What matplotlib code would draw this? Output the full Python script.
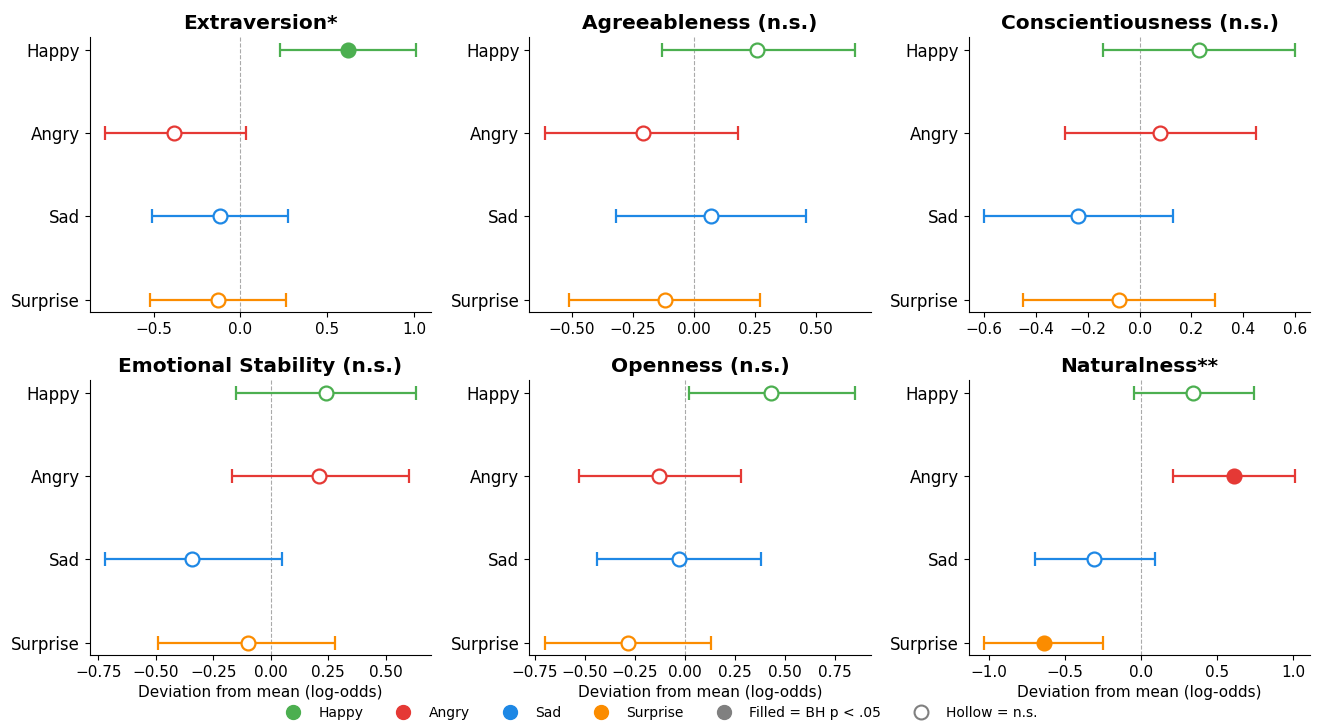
import matplotlib
matplotlib.use("Agg")
import matplotlib.pyplot as plt
from matplotlib.lines import Line2D
from matplotlib.ticker import MultipleLocator
import numpy as np

emotions = ["Happy", "Angry", "Sad", "Surprise"]
colors = ["#4CAF50", "#E53935", "#1E88E5", "#FB8C00"]

traits = ["Extraversion*", "Agreeableness (n.s.)", "Conscientiousness (n.s.)",
          "Emotional Stability (n.s.)", "Openness (n.s.)", "Naturalness**"]
tick_steps = [0.5, 0.25, 0.2, 0.25, 0.25, 0.5]

# point estimates per trait, order: Happy, Angry, Sad, Surprise
est_extraversion = [0.62, -0.38, -0.12, -0.13]
est_agreeableness = [0.26, -0.21, 0.07, -0.12]
est_conscientiousness = [0.23, 0.08, -0.24, -0.08]
est_stability = [0.24, 0.21, -0.34, -0.10]
est_openness = [0.43, -0.13, -0.03, -0.285]
est_naturalness = [0.34, 0.61, -0.31, -0.64]

lo_extraversion = [0.23, -0.78, -0.51, -0.52]
hi_extraversion = [1.01, 0.03, 0.275, 0.26]
lo_agreeableness = [-0.13, -0.61, -0.32, -0.51]
hi_agreeableness = [0.66, 0.18, 0.46, 0.27]
lo_conscientiousness = [-0.14, -0.29, -0.60, -0.45]
hi_conscientiousness = [0.60, 0.45, 0.13, 0.29]
lo_stability = [-0.15, -0.17, -0.72, -0.49]
hi_stability = [0.63, 0.60, 0.05, 0.28]
lo_openness = [0.02, -0.53, -0.44, -0.70]
hi_openness = [0.85, 0.28, 0.38, 0.13]
lo_naturalness = [-0.05, 0.21, -0.70, -1.03]
hi_naturalness = [0.74, 1.01, 0.09, -0.25]

sig_extraversion = [True, False, False, False]
sig_agreeableness = [False, False, False, False]
sig_conscientiousness = [False, False, False, False]
sig_stability = [False, False, False, False]
sig_openness = [False, False, False, False]
sig_naturalness = [False, True, False, True]

ests = [est_extraversion, est_agreeableness, est_conscientiousness,
        est_stability, est_openness, est_naturalness]
los = [lo_extraversion, lo_agreeableness, lo_conscientiousness,
       lo_stability, lo_openness, lo_naturalness]
his = [hi_extraversion, hi_agreeableness, hi_conscientiousness,
       hi_stability, hi_openness, hi_naturalness]
sigs = [sig_extraversion, sig_agreeableness, sig_conscientiousness,
        sig_stability, sig_openness, sig_naturalness]

fig, axes = plt.subplots(2, 3, figsize=(13.17, 7.27), dpi=100)
fig.subplots_adjust(left=0.068, right=0.995, top=0.949, bottom=0.099,
                    wspace=0.287, hspace=0.247)

ypos = np.arange(len(emotions))[::-1]
for i, ax in enumerate(axes.flat):
    ax.axvline(0, color="#aaaaaa", lw=0.8, ls="--", zorder=0)
    for j, emo in enumerate(emotions):
        e = ests[i][j]
        xerr = [[e - los[i][j]], [his[i][j] - e]]
        ax.errorbar([e], [ypos[j]], xerr=xerr, fmt="none", ecolor=colors[j],
                    elinewidth=1.6, capsize=5, capthick=1.6, zorder=2)
        face = colors[j] if sigs[i][j] else "white"
        ax.plot([e], [ypos[j]], "o", ms=10, mfc=face, mec=colors[j],
                mew=1.6, zorder=3)
    ax.set_yticks(ypos)
    ax.set_yticklabels(emotions, fontsize=12)
    ax.xaxis.set_major_locator(MultipleLocator(tick_steps[i]))
    ax.tick_params(axis="x", labelsize=11)
    ax.set_title(traits[i], fontsize=14.5, fontweight="bold")
    ax.spines["top"].set_visible(False)
    ax.spines["right"].set_visible(False)
    if i >= 3:
        ax.set_xlabel("Deviation from mean (log-odds)", fontsize=11)

handles = [Line2D([], [], ls="none", marker="o", ms=10, mfc=c, mec=c) for c in colors]
handles.append(Line2D([], [], ls="none", marker="o", ms=10, mfc="gray", mec="gray"))
handles.append(Line2D([], [], ls="none", marker="o", ms=10, mfc="white", mec="gray", mew=1.5))
labels = emotions + ["Filled = BH p < .05", "Hollow = n.s."]
fig.legend(handles, labels, loc="lower center", ncol=6, frameon=False,
           fontsize=10, bbox_to_anchor=(0.5, -0.008), columnspacing=1.9)

fig.savefig("out.png", dpi=100)
